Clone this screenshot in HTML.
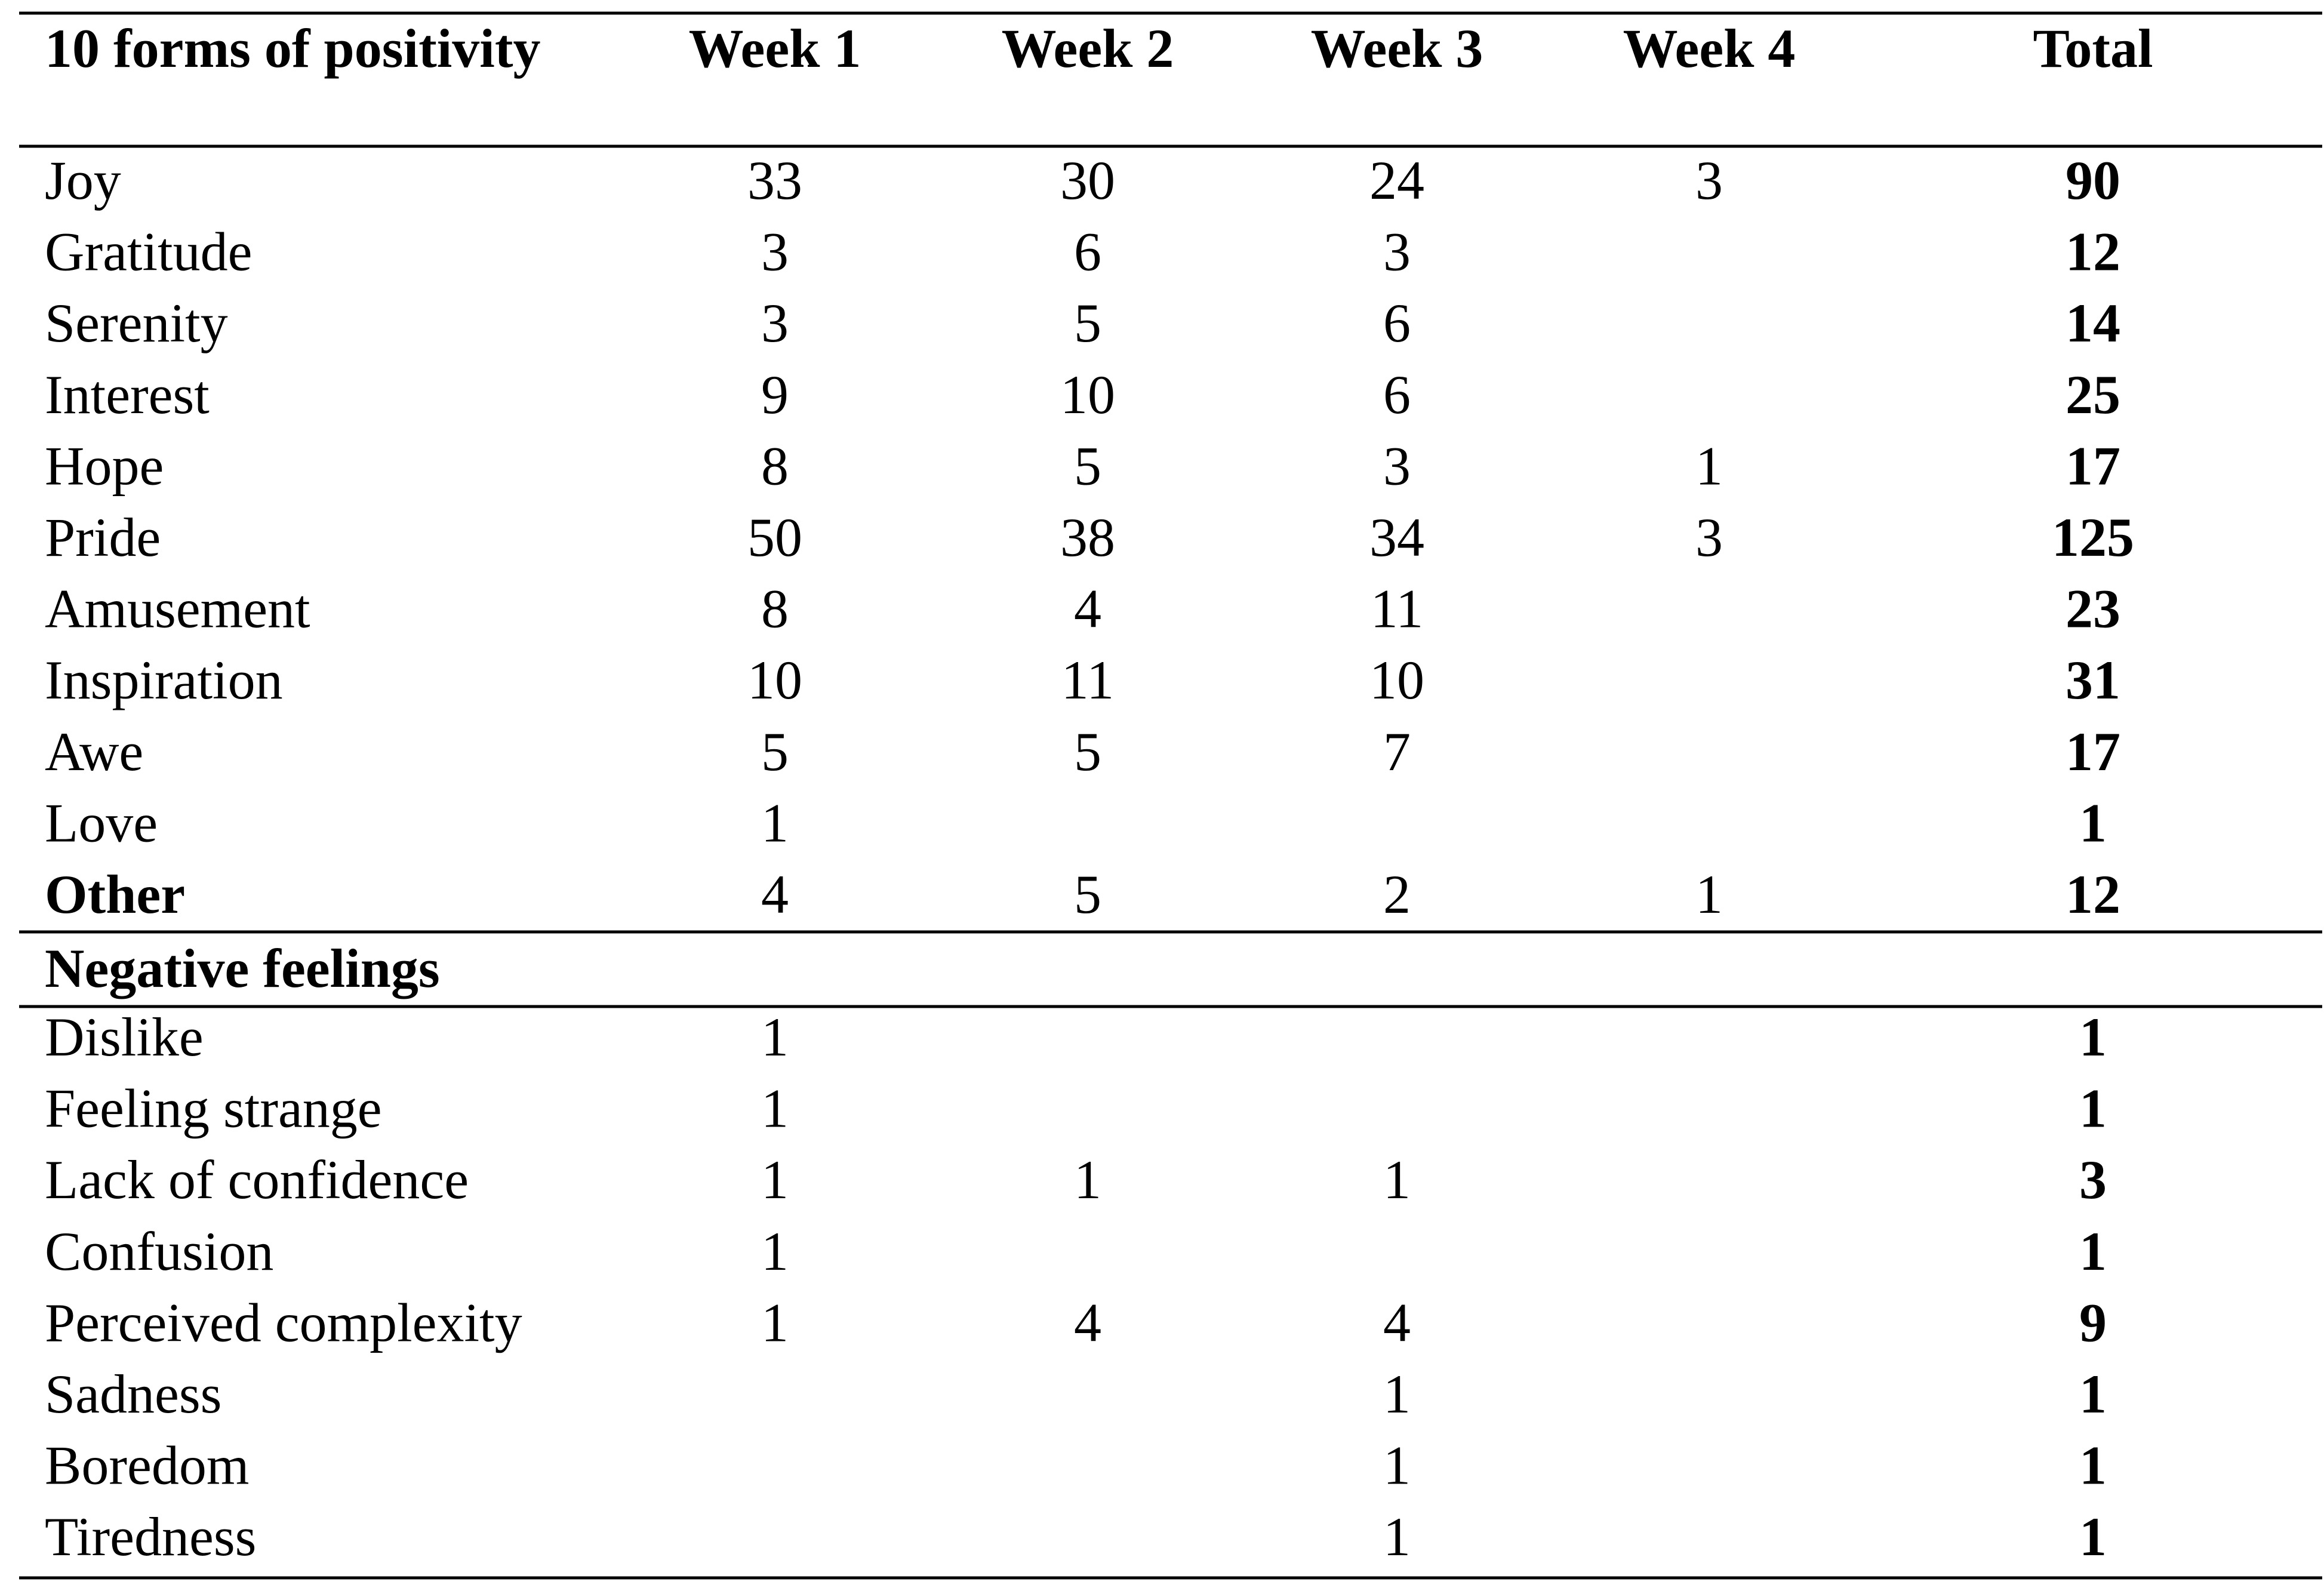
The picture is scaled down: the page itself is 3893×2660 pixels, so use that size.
<!DOCTYPE html>
<html><head><meta charset="utf-8"><style>
html,body{margin:0;padding:0;background:#fff;}
svg{display:block;}
text{font-family:"Liberation Serif",serif;font-size:92px;fill:#000;}
.b{font-weight:bold;}
.c{text-anchor:middle;}
</style></head><body>
<svg width="3893" height="2660" viewBox="0 0 3893 2660" xmlns="http://www.w3.org/2000/svg">
<g stroke="#000" stroke-width="5">
<line x1="32" y1="22" x2="3890" y2="22"/>
<line x1="32" y1="245" x2="3890" y2="245"/>
<line x1="32" y1="1561" x2="3890" y2="1561"/>
<line x1="32" y1="1686" x2="3890" y2="1686"/>
<line x1="32" y1="2643" x2="3890" y2="2643"/>
</g>
<g class="b">
<text x="75" y="112" class="b">10 forms of positivity</text>
<text x="1298" y="112" class="b c">Week 1</text>
<text x="1822" y="112" class="b c">Week 2</text>
<text x="2340" y="112" class="b c">Week 3</text>
<text x="2863" y="112" class="b c">Week 4</text>
<text x="3506" y="112" class="b c">Total</text>
<text x="75" y="1653" class="b">Negative feelings</text>
</g>
<g id="rows"></g>
<script>
var rows=[
["Joy","33","30","24","3","90"],
["Gratitude","3","6","3","","12"],
["Serenity","3","5","6","","14"],
["Interest","9","10","6","","25"],
["Hope","8","5","3","1","17"],
["Pride","50","38","34","3","125"],
["Amusement","8","4","11","","23"],
["Inspiration","10","11","10","","31"],
["Awe","5","5","7","","17"],
["Love","1","","","","1"],
["Other","4","5","2","1","12"]];
var neg=[
["Dislike","1","","","","1"],
["Feeling strange","1","","","","1"],
["Lack of confidence","1","1","1","","3"],
["Confusion","1","","","","1"],
["Perceived complexity","1","4","4","","9"],
["Sadness","","","1","","1"],
["Boredom","","","1","","1"],
["Tiredness","","","1","","1"]];
var xs=[1298,1822,2340,2863,3506];
var g=document.getElementById("rows");var ns="http://www.w3.org/2000/svg";
function add(r,y){
 var t=document.createElementNS(ns,"text");t.setAttribute("x",75);t.setAttribute("y",y);t.textContent=r[0];
 if(r[0]==="Other")t.setAttribute("class","b");g.appendChild(t);
 for(var i=1;i<6;i++){if(!r[i])continue;var u=document.createElementNS(ns,"text");
 u.setAttribute("x",xs[i-1]);u.setAttribute("y",y);u.setAttribute("class",i===5?"b c":"c");u.textContent=r[i];g.appendChild(u);}
}
rows.forEach(function(r,i){add(r,333+i*119.6);});
neg.forEach(function(r,i){add(r,1768+i*119.6);});
</script>
</svg>
</body></html>
